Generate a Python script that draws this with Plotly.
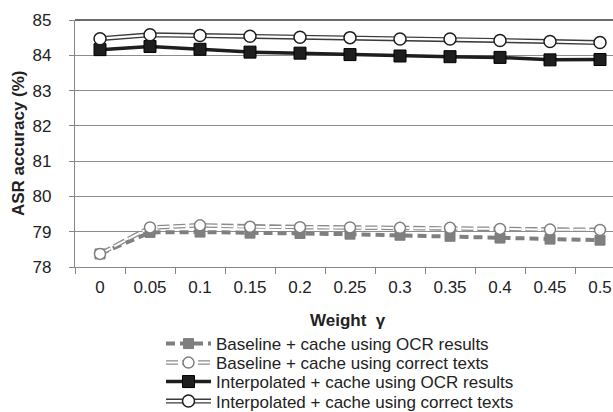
import plotly.graph_objects as go

# ---------------- data ----------------
weights = ["0", "0.05", "0.1", "0.15", "0.2", "0.25", "0.3", "0.35", "0.4", "0.45", "0.5"]
baseline_ocr = [78.37, 78.98, 78.99, 78.96, 78.95, 78.93, 78.90, 78.87, 78.82, 78.79, 78.76]
baseline_correct = [78.37, 79.12, 79.18, 79.14, 79.13, 79.12, 79.11, 79.11, 79.08, 79.06, 79.05]
interp_ocr = [84.16, 84.25, 84.17, 84.09, 84.06, 84.02, 83.98, 83.96, 83.94, 83.87, 83.88]
interp_correct = [84.47, 84.58, 84.56, 84.54, 84.51, 84.50, 84.46, 84.46, 84.42, 84.39, 84.36]
y_ticks = [78, 79, 80, 81, 82, 83, 84, 85]

names = [
    "Baseline + cache using OCR results",
    "Baseline + cache using correct texts",
    "Interpolated + cache using OCR results",
    "Interpolated + cache using correct texts",
]

FONT = "Liberation Sans, Arial, sans-serif"
GREY = "#7f7f7f"
DARK = "#1e1e1e"

fig = go.Figure()

# Baseline OCR
fig.add_trace(go.Scatter(
    x=weights, y=baseline_ocr, name=names[0], mode="lines+markers",
    line=dict(color=GREY, width=4, dash="9px,5px"),
    marker=dict(symbol="square", size=10, color=GREY, line=dict(color=GREY, width=1)),
    legend="legend"))
# Baseline correct: outline
fig.add_trace(go.Scatter(
    x=weights, y=baseline_correct, name=names[1], mode="lines",
    line=dict(color="#8a8a8a", width=4.5, dash="12px,4px"),
    legend="legend2"))
# Interpolated OCR
fig.add_trace(go.Scatter(
    x=weights, y=interp_ocr, name=names[2], mode="lines+markers",
    line=dict(color=DARK, width=3.5),
    marker=dict(symbol="square", size=12, color=DARK, line=dict(color="#000", width=1)),
    legend="legend3"))
# Interpolated correct: outline
fig.add_trace(go.Scatter(
    x=weights, y=interp_correct, name=names[3], mode="lines",
    line=dict(color="#3a3a3a", width=5),
    legend="legend4"))
# Baseline correct: white core + markers
fig.add_trace(go.Scatter(
    x=weights, y=baseline_correct, name=" ", mode="lines+markers",
    line=dict(color="white", width=2, dash="12px,4px"),
    marker=dict(symbol="circle", size=11, color="white", line=dict(color=GREY, width=1.5)),
    legend="legend5"))
# Interpolated correct: white core + markers
fig.add_trace(go.Scatter(
    x=weights, y=interp_correct, name=" ", mode="lines+markers",
    line=dict(color="white", width=2.2),
    marker=dict(symbol="circle", size=12, color="white", line=dict(color=DARK, width=1.5)),
    legend="legend6"))

L, T, B = 75, 20, 145
W, H = 613, 412
ph = H - T - B
pw = W - L

def py(ypx):
    return (H - B - ypx) / ph

def px(xpx):
    return (xpx - L) / pw

leg_x = px(161)
rows = [344, 363, 382, 401.5]
common = dict(xanchor="left", yanchor="middle", bgcolor="rgba(0,0,0,0)",
              borderwidth=0, itemwidth=45, font=dict(family=FONT, size=17, color="#222"),
              orientation="v", tracegroupgap=0)
layout_legends = {
    "legend": dict(x=leg_x, y=py(rows[0]), **common),
    "legend2": dict(x=leg_x, y=py(rows[1]), **common),
    "legend3": dict(x=leg_x, y=py(rows[2]), **common),
    "legend4": dict(x=leg_x, y=py(rows[3]), **common),
    "legend5": dict(x=leg_x, y=py(rows[1]), **common),
    "legend6": dict(x=leg_x, y=py(rows[3]), **common),
}

fig.update_layout(
    width=W, height=H,
    margin=dict(l=L, r=0, t=T, b=B, pad=0, autoexpand=False),
    paper_bgcolor="white", plot_bgcolor="white",
    font=dict(family=FONT, size=17, color="#222"),
    showlegend=True,
    **layout_legends,
    xaxis=dict(
        type="category", categoryorder="array", categoryarray=weights,
        range=[-0.5, 10.26], tickson="boundaries", ticks="outside", ticklen=6,
        tickcolor="#868686", tickwidth=1.3, showline=True, linecolor="#868686", linewidth=1.3,
        showgrid=False, zeroline=False, ticklabelstandoff=4, automargin=False,
        tickfont=dict(family=FONT, size=17, color="#222")),
    yaxis=dict(
        range=[78, 85], tickvals=y_ticks, ticks="outside", ticklen=5,
        tickcolor="#868686", tickwidth=1.3, showline=True, linecolor="#868686", linewidth=1.3,
        showgrid=True, gridcolor="#8c8c8c", gridwidth=1, zeroline=False,
        ticklabelstandoff=14, automargin=False,
        tickfont=dict(family=FONT, size=17, color="#222")),
    annotations=[
        dict(text="<b>ASR accuracy (%)</b>", xref="paper", yref="paper",
             x=px(18), y=py(143), textangle=-90, showarrow=False,
             xanchor="center", yanchor="middle",
             font=dict(family=FONT, size=17, color="#222")),
        dict(text="<b>Weight  γ</b>", xref="paper", yref="paper",
             x=px(348), y=py(320), showarrow=False,
             xanchor="center", yanchor="middle",
             font=dict(family=FONT, size=17, color="#222")),
    ],
    shapes=[dict(type="line", xref="paper", yref="paper", x0=0, x1=1, y0=1, y1=1,
                 line=dict(color="#3a3a3a", width=1.3), layer="below")],
)

fig.write_html("out.html",
               config={"displayModeBar": False},
               post_script="document.body.style.margin='0';document.body.style.overflow='hidden';")
